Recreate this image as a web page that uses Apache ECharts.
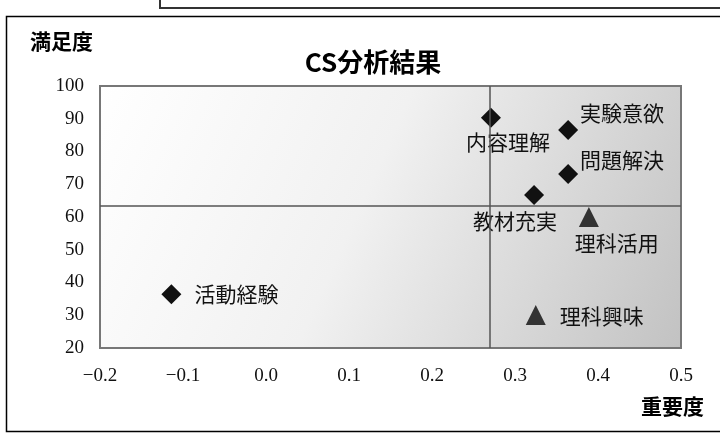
<!DOCTYPE html>
<html>
<head>
<meta charset="utf-8">
<script src="https://cdn.jsdelivr.net/npm/echarts@6/dist/echarts.min.js"></script>
<style>
  html, body { margin: 0; padding: 0; background: #fff; }
  #chart { width: 720px; height: 434px; }
</style>
</head>
<body>
<div id="chart"></div>
<script>
// 重要度 (x) と 満足度 (y) の散布図
const diamondNames = ['内容理解', '実験意欲', '問題解決', '教材充実', '活動経験'];
const diamondX = [0.271, 0.364, 0.364, 0.323, -0.114];
const diamondY = [90.3, 86.6, 73.1, 66.7, 36.4];

const triangleNames = ['理科活用', '理科興味'];
const triangleX = [0.389, 0.325];
const triangleY = [60.0, 30.1];

const xTicks = { min: -0.2, max: 0.5, step: 0.1 };
const yTicks = { min: 20, max: 100, step: 10 };

// label offsets from each marker centre (px)
const labelOffset = {
  '内容理解': [17, 24],
  '実験意欲': [54, -17],
  '問題解決': [54, -14],
  '教材充実': [-19, 26],
  '活動経験': [65, 0],
  '理科活用': [28, 26],
  '理科興味': [66, 1]
};

const SYM = 20;
const cjk = "'Noto Sans CJK JP', sans-serif";
const serif = "'Liberation Serif', 'DejaVu Serif', serif";

function points(names, xs, ys) {
  return names.map((n, i) => {
    const o = labelOffset[n];
    return {
      name: n,
      value: [xs[i], ys[i]],
      label: { position: [SYM / 2 + o[0], SYM / 2 + o[1]] }
    };
  });
}

// quadrant dividers sit on the mean of all items
const allX = diamondX.concat(triangleX);
const allY = diamondY.concat(triangleY);
const meanX = allX.reduce((a, b) => a + b, 0) / allX.length;
const meanY = allY.reduce((a, b) => a + b, 0) / allY.length;

const chart = echarts.init(document.getElementById('chart'), null, { renderer: 'canvas' });

const labelStyle = {
  show: true,
  formatter: '{b}',
  fontFamily: cjk,
  fontSize: 21,
  color: '#111',
  align: 'center',
  verticalAlign: 'middle'
};

chart.setOption({
  animation: false,
  backgroundColor: '#ffffff',
  title: {
    text: 'CS分析結果',
    left: 368,
    top: 44,
    textAlign: 'center',
    textStyle: { fontFamily: cjk, fontSize: 26, fontWeight: 'bold', color: '#000' }
  },
  graphic: [
    { type: 'rect', silent: true, z: -1,
      shape: { x: 160, y: -10, width: 600, height: 18 },
      style: { fill: 'none', stroke: '#333', lineWidth: 2 } },
    { type: 'rect', silent: true, z: -1,
      shape: { x: 6.5, y: 16.5, width: 740, height: 415 },
      style: { fill: 'none', stroke: '#000', lineWidth: 1.5 } },
    { type: 'text', left: 30, top: 31,
      style: { text: '満足度', fontFamily: cjk, fontSize: 21, fontWeight: 'bold', fill: '#000' } },
    { type: 'text', left: 641, top: 396,
      style: { text: '重要度', fontFamily: cjk, fontSize: 21, fontWeight: 'bold', fill: '#000' } }
  ],
  grid: {
    left: 100, right: 39, top: 86, bottom: 86,
    show: true,
    borderColor: '#777',
    borderWidth: 2,
    backgroundColor: new echarts.graphic.LinearGradient(0, 0, 1, 1, [
      { offset: 0, color: '#ffffff' },
      { offset: 0.45, color: '#f1f1f1' },
      { offset: 1, color: '#c2c2c2' }
    ])
  },
  xAxis: {
    type: 'value',
    min: xTicks.min, max: xTicks.max, interval: xTicks.step,
    axisLine: { show: false }, axisTick: { show: false }, splitLine: { show: false },
    axisLabel: {
      margin: 19,
      fontFamily: serif, fontSize: 19, color: '#111',
      formatter: v => v.toFixed(1).replace('-', '\u2212')
    }
  },
  yAxis: {
    type: 'value',
    min: yTicks.min, max: yTicks.max, interval: yTicks.step,
    axisLine: { show: false }, axisTick: { show: false }, splitLine: { show: false },
    axisLabel: { margin: 16, fontFamily: serif, fontSize: 19, color: '#111' }
  },
  series: [
    {
      name: 'diamond',
      type: 'scatter',
      symbol: 'diamond',
      symbolSize: SYM,
      itemStyle: { color: '#111', opacity: 1 },
      label: labelStyle,
      data: points(diamondNames, diamondX, diamondY),
      markLine: {
        silent: true,
        symbol: 'none',
        label: { show: false },
        lineStyle: { color: '#555', width: 1.5, type: 'solid', opacity: 1 },
        data: [{ xAxis: meanX }, { yAxis: meanY }]
      },
      z: 3
    },
    {
      name: 'triangle',
      type: 'scatter',
      symbol: 'triangle',
      symbolSize: SYM,
      itemStyle: { color: '#333', opacity: 1 },
      label: labelStyle,
      data: points(triangleNames, triangleX, triangleY),
      z: 3
    }
  ]
});
</script>
</body>
</html>
